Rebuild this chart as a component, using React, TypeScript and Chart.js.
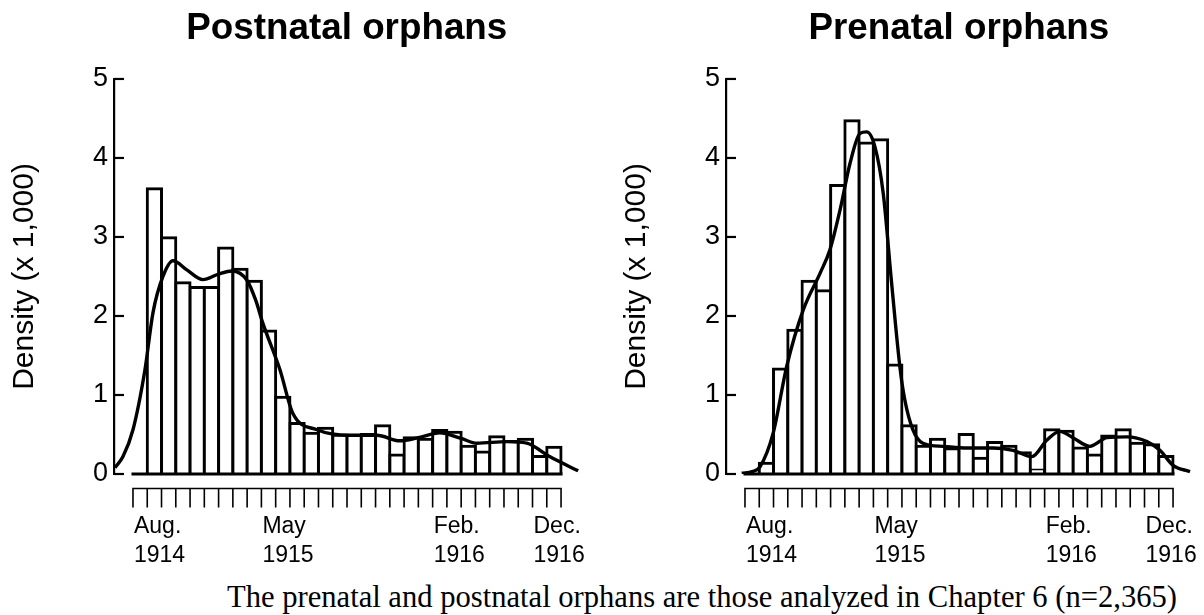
import React, { useEffect, useRef } from 'react';
import { Chart, registerables } from 'chart.js';

Chart.register(...registerables);

// ---- data (densities x 1,000 per monthly bin; bin 0 = first, empty) ----
const binCount = 30;
const yTicks = [0, 1, 2, 3, 4, 5];

const postnatalDensity = [
  0, 3.61, 2.99, 2.42, 2.36, 2.36, 2.86, 2.59, 2.44, 1.81,
  0.97, 0.64, 0.515, 0.58, 0.49, 0.49, 0.5, 0.61, 0.24, 0.46,
  0.44, 0.55, 0.53, 0.35, 0.28, 0.47, 0.41, 0.44, 0.22, 0.34,
];
const prenatalDensity = [
  0, 0.135, 1.33, 1.82, 2.44, 2.32, 3.65, 4.47, 4.19, 4.23,
  1.38, 0.61, 0.35, 0.44, 0.32, 0.5, 0.2, 0.4, 0.35, 0.27,
  0.05, 0.56, 0.54, 0.33, 0.24, 0.48, 0.56, 0.39, 0.37, 0.22,
];

const postnatalCurveX = [
  -1.26, -0.7, 0, 0.84, 1.4, 2.1, 2.8, 3.8, 4.9, 6.0, 6.94, 8.0, 8.6, 9.1, 10.3, 11.2,
  12.9, 15.2, 17.1, 18.7, 20.0, 21.5, 23.0, 24.1, 26.2, 27.6, 29.2, 31.2,
];
const postnatalCurveY = [
  0.08, 0.22, 0.56, 1.32, 2.04, 2.5, 2.7, 2.58, 2.46, 2.53, 2.57, 2.45, 2.2, 1.91, 1.32, 0.77,
  0.56, 0.49, 0.49, 0.42, 0.46, 0.52, 0.45, 0.39, 0.41, 0.39, 0.22, 0.04,
];

const prenatalCurveX = [
  -0.23, 0.5, 1.05, 1.98, 2.92, 4.09, 5.26, 5.96, 6.66, 7.36, 8.06, 8.53, 9.11, 9.69,
  10.28, 10.86, 11.2, 11.77, 12.47, 13.88, 15.56, 17.38, 18.78, 20.11, 21.16, 22.07,
  22.98, 24.17, 25.37, 26.77, 28.17, 29.08, 30.0, 31.19,
];
const prenatalCurveY = [
  0.01, 0.03, 0.09, 0.52, 1.36, 2.08, 2.54, 2.84, 3.34, 3.93, 4.31, 4.33, 4.14, 3.55,
  2.41, 1.35, 0.94, 0.56, 0.39, 0.35, 0.33, 0.33, 0.3, 0.22, 0.43, 0.54,
  0.46, 0.35, 0.46, 0.47, 0.41, 0.3, 0.11, 0.03,
];

const xTickPositions = [0, 9, 21, 28];
const xTickLabels = [
  ['Aug.', '1914'],
  ['May', '1915'],
  ['Feb.', '1916'],
  ['Dec.', '1916'],
];

const X_MIN = -1.33;
const X_MAX = 31.3;
const SANS = '"Liberation Sans", Arial, Helvetica, sans-serif';

const axisPlugin = {
  id: 'rStyleAxes',
  afterDraw(chart: any) {
    const { ctx, chartArea } = chart;
    const x = chart.scales.x;
    const y = chart.scales.y;
    ctx.save();
    ctx.strokeStyle = '#000';
    ctx.fillStyle = '#000';
    ctx.lineCap = 'butt';
    // inward y ticks
    ctx.lineWidth = 2.2;
    for (const v of yTicks) {
      const py = y.getPixelForValue(v);
      ctx.beginPath();
      ctx.moveTo(chartArea.left, py);
      ctx.lineTo(chartArea.left + 10, py);
      ctx.stroke();
    }
    const x0 = x.getPixelForValue(0);
    const x1 = x.getPixelForValue(binCount);
    const y0 = y.getPixelForValue(0);
    // histogram baseline
    ctx.lineWidth = 3;
    ctx.beginPath();
    ctx.moveTo(x0 - 1.5, y0);
    ctx.lineTo(x1 + 1.5, y0);
    ctx.stroke();
    // month axis below
    const ay = y0 + 14.5;
    ctx.lineWidth = 1.6;
    ctx.beginPath();
    ctx.moveTo(x0 - 0.8, ay);
    ctx.lineTo(x1 + 0.8, ay);
    for (let k = 0; k <= binCount; k++) {
      const px = x.getPixelForValue(k);
      ctx.moveTo(px, ay);
      ctx.lineTo(px, ay + 19);
    }
    ctx.stroke();
    // month labels
    ctx.font = `23px ${SANS}`;
    ctx.textAlign = 'left';
    ctx.textBaseline = 'middle';
    xTickPositions.forEach((pos, i) => {
      const px = x.getPixelForValue(pos);
      ctx.fillText(xTickLabels[i][0], px + 1, y0 + 53);
      ctx.fillText(xTickLabels[i][1], px + 1, y0 + 82);
    });
    ctx.restore();
  },
};

type HistProps = {
  density: number[];
  curveX: number[];
  curveY: number[];
  title: string;
  left: number;
  width: number;
  padRight: number;
};

function HistChart({ density, curveX, curveY, title, left, width, padRight }: HistProps) {
  const ref = useRef<HTMLCanvasElement>(null);
  useEffect(() => {
    if (!ref.current) return;
    const chart = new Chart(ref.current, {
      type: 'bar',
      data: {
        datasets: [
          {
            type: 'line',
            data: curveX.map((xv, i) => ({ x: xv, y: curveY[i] })),
            borderColor: '#000',
            borderWidth: 3.4,
            pointRadius: 0,
            cubicInterpolationMode: 'monotone',
            fill: false,
            order: 0,
          } as any,
          {
            type: 'bar',
            data: density.map((v, k) => ({ x: k + 0.5, y: v })),
            backgroundColor: '#fff',
            borderColor: '#000',
            borderWidth: 3,
            inflateAmount: 1.5,
            borderSkipped: 'start',
            barPercentage: 1,
            categoryPercentage: 1,
            order: 1,
          } as any,
        ],
      },
      options: {
        animation: false,
        responsive: false,
        maintainAspectRatio: false,
        layout: { padding: { left: 0, right: padRight, top: 0, bottom: 100 } },
        plugins: {
          legend: { display: false },
          tooltip: { enabled: false },
          title: {
            display: true,
            text: title,
            fullSize: false,
            color: '#000',
            font: { family: SANS, size: 36.8, weight: 'bold', lineHeight: 1.2 },
            padding: { top: 7, bottom: 27.8 },
          },
        },
        scales: {
          x: {
            type: 'linear',
            min: X_MIN,
            max: X_MAX,
            offset: false,
            display: false,
          },
          y: {
            min: 0,
            max: 5,
            ticks: {
              stepSize: 1,
              color: '#000',
              padding: 6,
              font: { family: SANS, size: 27 },
            },
            grid: { display: true, drawOnChartArea: false, drawTicks: false },
            border: { display: true, color: '#000', width: 2.2 },
            title: {
              display: true,
              text: 'Density (x 1,000)',
              color: '#000',
              font: { family: SANS, size: 30, lineHeight: 1.2 },
              padding: { top: 7, bottom: 0 },
            },
            afterFit: (s: any) => {
              s.width = 114;
            },
          },
        },
      } as any,
      plugins: [axisPlugin],
    });
    return () => chart.destroy();
  }, []);
  return (
    <canvas
      ref={ref}
      width={width}
      height={574}
      style={{ position: 'absolute', left, top: 0, width, height: 574 }}
    />
  );
}

export default function App() {
  return (
    <div
      style={{
        position: 'absolute',
        left: 0,
        top: 0,
        width: 1204,
        height: 615,
        background: '#fff',
        overflow: 'hidden',
      }}
    >
      <HistChart
        density={postnatalDensity}
        curveX={postnatalCurveX}
        curveY={postnatalCurveY}
        title="Postnatal orphans"
        left={0}
        width={600}
        padRight={20.4}
      />
      <HistChart
        density={prenatalDensity}
        curveX={prenatalCurveX}
        curveY={prenatalCurveY}
        title="Prenatal orphans"
        left={612}
        width={592}
        padRight={12.4}
      />
      <div
        style={{
          position: 'absolute',
          left: 702,
          top: 582,
          transform: 'translateX(-50%)',
          whiteSpace: 'nowrap',
          fontFamily: '"Liberation Serif", "Times New Roman", serif',
          fontSize: 30.6,
          lineHeight: '30px',
          color: '#000',
        }}
      >
        The prenatal and postnatal orphans are those analyzed in Chapter 6 (n=2,365)
      </div>
    </div>
  );
}
